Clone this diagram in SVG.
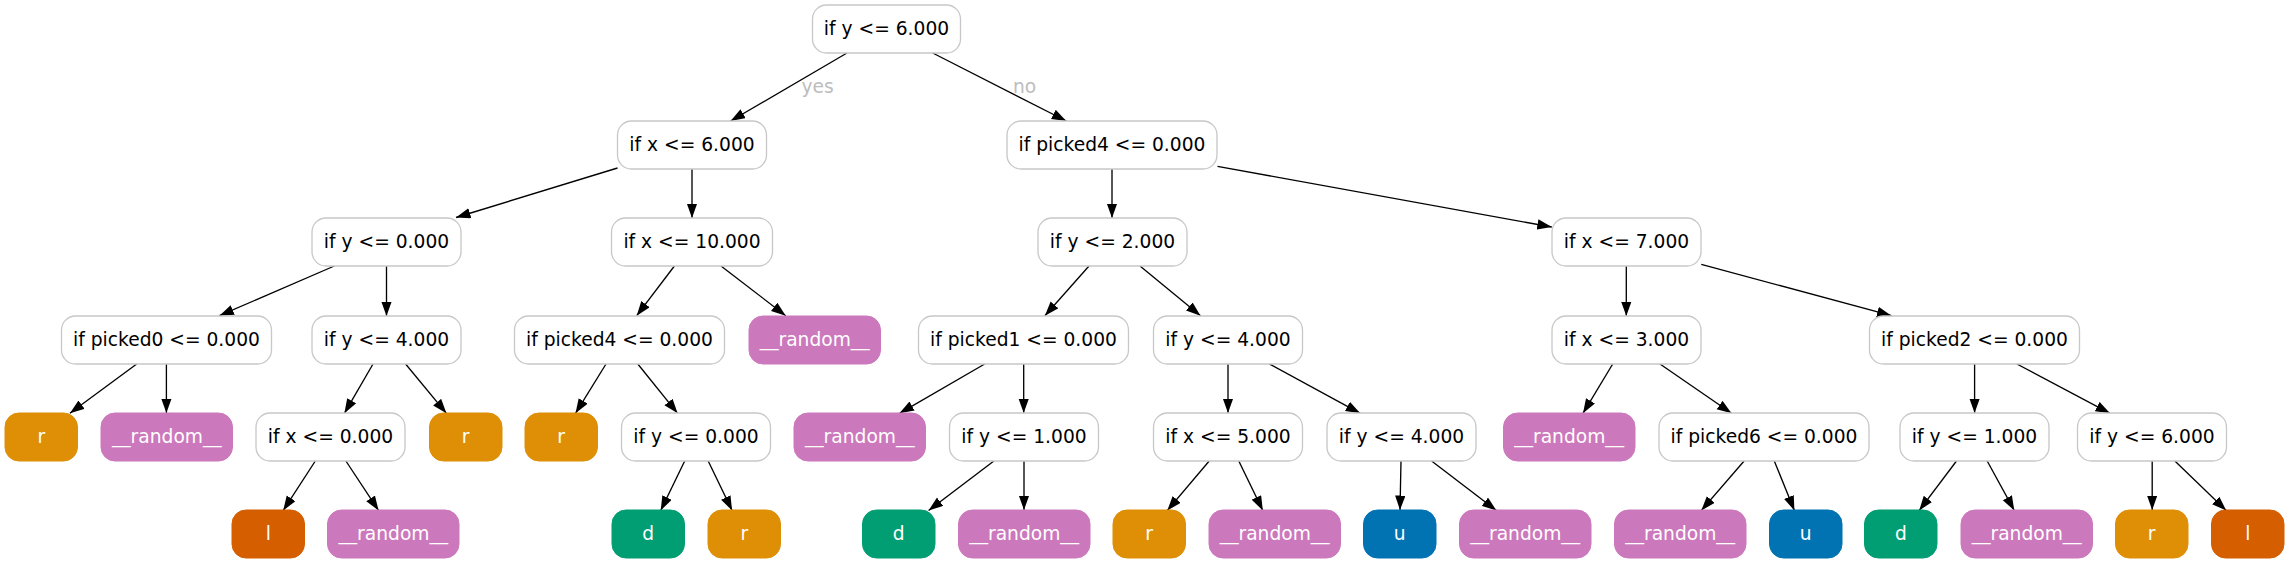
<svg xmlns="http://www.w3.org/2000/svg" width="2289" height="564" viewBox="0 0 2289 564">
<defs>
<marker id="ah" markerUnits="userSpaceOnUse" markerWidth="15" markerHeight="11" refX="14.5" refY="5.2" orient="auto">
<path d="M0,0 L14.5,5.2 L0,10.4 Z" fill="#000"/>
</marker>
<style>
.c{fill:#fff;stroke:#c8c8c8;stroke-width:1.33}
.R{fill:#de8f05;stroke:#de8f05}
.L{fill:#d55e00;stroke:#d55e00}
.D{fill:#029e73;stroke:#029e73}
.U{fill:#0173b2;stroke:#0173b2}
.Z{fill:#cc78bc;stroke:#cc78bc}
text{font-family:"DejaVu Sans","Liberation Sans",sans-serif;font-size:18.67px;text-anchor:middle}
.w{fill:#fff}
.k{fill:#000}
.e line{stroke:#000;stroke-width:1.33;marker-end:url(#ah)}
.lab{fill:#bdbdbd}
</style>
</defs>
<rect width="2289" height="564" fill="#fff"/>
<g id="connectors" class="e">
<line x1="847" y1="53" x2="730.6" y2="121"/>
<line x1="932.7" y1="53" x2="1066.3" y2="121"/>
<line x1="617.5" y1="168" x2="456" y2="217.5"/>
<line x1="692" y1="169" x2="692" y2="218"/>
<line x1="1112" y1="169" x2="1112" y2="218"/>
<line x1="1217.5" y1="166.4" x2="1551.8" y2="227"/>
<line x1="334.3" y1="266" x2="219.4" y2="315.7"/>
<line x1="386.5" y1="266" x2="386.5" y2="316"/>
<line x1="674.4" y1="266" x2="636.7" y2="315.7"/>
<line x1="721" y1="266" x2="785.7" y2="315.7"/>
<line x1="1089" y1="266" x2="1044.9" y2="315.7"/>
<line x1="1140" y1="266" x2="1200.5" y2="315.7"/>
<line x1="1626.3" y1="266" x2="1626.3" y2="316"/>
<line x1="1701.3" y1="264.3" x2="1891.5" y2="315.7"/>
<line x1="136.7" y1="364" x2="69.9" y2="413.3"/>
<line x1="166.4" y1="364" x2="166.4" y2="413"/>
<line x1="373" y1="364" x2="344.4" y2="413.3"/>
<line x1="405.6" y1="364" x2="446.4" y2="413.3"/>
<line x1="606" y1="364" x2="575.5" y2="413.3"/>
<line x1="637.8" y1="364" x2="677.6" y2="413.3"/>
<line x1="984.7" y1="364" x2="899.5" y2="413.3"/>
<line x1="1023.7" y1="364" x2="1023.7" y2="413"/>
<line x1="1228" y1="364" x2="1228" y2="413"/>
<line x1="1269.4" y1="364" x2="1360.2" y2="413.3"/>
<line x1="1612.7" y1="364" x2="1583" y2="413.3"/>
<line x1="1660" y1="364" x2="1731.5" y2="413.3"/>
<line x1="1974.6" y1="364" x2="1974.6" y2="413"/>
<line x1="2016.9" y1="364" x2="2110" y2="413.3"/>
<line x1="315.3" y1="461" x2="283.2" y2="510.5"/>
<line x1="345.9" y1="461" x2="378.6" y2="510.5"/>
<line x1="684.7" y1="461" x2="660.7" y2="510.5"/>
<line x1="708.2" y1="461" x2="732.1" y2="510.5"/>
<line x1="993.9" y1="461" x2="928.6" y2="510.5"/>
<line x1="1024" y1="461" x2="1024" y2="510"/>
<line x1="1209.2" y1="461" x2="1167.3" y2="510.5"/>
<line x1="1238.8" y1="461" x2="1262.8" y2="510.5"/>
<line x1="1401" y1="461" x2="1400" y2="510"/>
<line x1="1431.6" y1="461" x2="1496.4" y2="510.5"/>
<line x1="1744.1" y1="461" x2="1701.3" y2="510.5"/>
<line x1="1774.3" y1="461" x2="1794.4" y2="510.5"/>
<line x1="1956.5" y1="461" x2="1919.2" y2="510.5"/>
<line x1="1987.2" y1="461" x2="2014.3" y2="510.5"/>
<line x1="2152.2" y1="461" x2="2152.2" y2="510"/>
<line x1="2174.9" y1="461" x2="2226.2" y2="510.5"/>
<text class="lab" x="817.5" y="93">yes</text>
<text class="lab" x="1024.5" y="93">no</text>
</g>
<g id="n0"><rect class="c" x="812.5" y="5" width="148" height="48" rx="14"/><text class="k" x="886.5" y="35">if y &lt;= 6.000</text></g>
<g id="n1"><rect class="c" x="617.5" y="121" width="149" height="48" rx="14"/><text class="k" x="692" y="151">if x &lt;= 6.000</text></g>
<g id="n2"><rect class="c" x="1007" y="121" width="210" height="48" rx="14"/><text class="k" x="1112" y="151">if picked4 &lt;= 0.000</text></g>
<g id="n3"><rect class="c" x="312" y="218" width="149" height="48" rx="14"/><text class="k" x="386.5" y="248">if y &lt;= 0.000</text></g>
<g id="n4"><rect class="c" x="611.5" y="218" width="161" height="48" rx="14"/><text class="k" x="692" y="248">if x &lt;= 10.000</text></g>
<g id="n5"><rect class="c" x="1038" y="218" width="149" height="48" rx="14"/><text class="k" x="1112.5" y="248">if y &lt;= 2.000</text></g>
<g id="n6"><rect class="c" x="1552" y="218" width="149" height="48" rx="14"/><text class="k" x="1626.5" y="248">if x &lt;= 7.000</text></g>
<g id="n7"><rect class="c" x="61.5" y="316" width="210" height="48" rx="14"/><text class="k" x="166.5" y="346">if picked0 &lt;= 0.000</text></g>
<g id="n8"><rect class="c" x="312" y="316" width="149" height="48" rx="14"/><text class="k" x="386.5" y="346">if y &lt;= 4.000</text></g>
<g id="n9"><rect class="c" x="514.5" y="316" width="210" height="48" rx="14"/><text class="k" x="619.5" y="346">if picked4 &lt;= 0.000</text></g>
<g id="n10"><rect class="Z" x="749" y="316" width="131.5" height="48" rx="14"/><text class="w" x="814.7" y="346">__random__</text></g>
<g id="n11"><rect class="c" x="918.5" y="316" width="210" height="48" rx="14"/><text class="k" x="1023.5" y="346">if picked1 &lt;= 0.000</text></g>
<g id="n12"><rect class="c" x="1153.5" y="316" width="149" height="48" rx="14"/><text class="k" x="1228" y="346">if y &lt;= 4.000</text></g>
<g id="n13"><rect class="c" x="1552" y="316" width="149" height="48" rx="14"/><text class="k" x="1626.5" y="346">if x &lt;= 3.000</text></g>
<g id="n14"><rect class="c" x="1869.5" y="316" width="210" height="48" rx="14"/><text class="k" x="1974.5" y="346">if picked2 &lt;= 0.000</text></g>
<g id="n15"><rect class="R" x="5" y="413" width="72.5" height="48" rx="14"/><text class="w" x="41.3" y="443">r</text></g>
<g id="n16"><rect class="Z" x="101" y="413" width="131.5" height="48" rx="14"/><text class="w" x="166.8" y="443">__random__</text></g>
<g id="n17"><rect class="c" x="256" y="413" width="149" height="48" rx="14"/><text class="k" x="330.5" y="443">if x &lt;= 0.000</text></g>
<g id="n18"><rect class="R" x="429.5" y="413" width="72.5" height="48" rx="14"/><text class="w" x="465.7" y="443">r</text></g>
<g id="n19"><rect class="R" x="525" y="413" width="72.5" height="48" rx="14"/><text class="w" x="561.2" y="443">r</text></g>
<g id="n20"><rect class="c" x="621.5" y="413" width="149" height="48" rx="14"/><text class="k" x="696" y="443">if y &lt;= 0.000</text></g>
<g id="n21"><rect class="Z" x="794" y="413" width="131.5" height="48" rx="14"/><text class="w" x="859.8" y="443">__random__</text></g>
<g id="n22"><rect class="c" x="949.5" y="413" width="149" height="48" rx="14"/><text class="k" x="1024" y="443">if y &lt;= 1.000</text></g>
<g id="n23"><rect class="c" x="1153.5" y="413" width="149" height="48" rx="14"/><text class="k" x="1228" y="443">if x &lt;= 5.000</text></g>
<g id="n24"><rect class="c" x="1327" y="413" width="149" height="48" rx="14"/><text class="k" x="1401.5" y="443">if y &lt;= 4.000</text></g>
<g id="n25"><rect class="Z" x="1503.5" y="413" width="131.5" height="48" rx="14"/><text class="w" x="1569.2" y="443">__random__</text></g>
<g id="n26"><rect class="c" x="1659" y="413" width="210" height="48" rx="14"/><text class="k" x="1764" y="443">if picked6 &lt;= 0.000</text></g>
<g id="n27"><rect class="c" x="1900" y="413" width="149" height="48" rx="14"/><text class="k" x="1974.5" y="443">if y &lt;= 1.000</text></g>
<g id="n28"><rect class="c" x="2077.5" y="413" width="149" height="48" rx="14"/><text class="k" x="2152" y="443">if y &lt;= 6.000</text></g>
<g id="n29"><rect class="L" x="232" y="510" width="72.5" height="48" rx="14"/><text class="w" x="268.3" y="540">l</text></g>
<g id="n30"><rect class="Z" x="327.5" y="510" width="131.5" height="48" rx="14"/><text class="w" x="393.3" y="540">__random__</text></g>
<g id="n31"><rect class="D" x="612" y="510" width="72.5" height="48" rx="14"/><text class="w" x="648.2" y="540">d</text></g>
<g id="n32"><rect class="R" x="708" y="510" width="72.5" height="48" rx="14"/><text class="w" x="744.3" y="540">r</text></g>
<g id="n33"><rect class="D" x="862.5" y="510" width="72.5" height="48" rx="14"/><text class="w" x="898.7" y="540">d</text></g>
<g id="n34"><rect class="Z" x="958.5" y="510" width="131.5" height="48" rx="14"/><text class="w" x="1024.2" y="540">__random__</text></g>
<g id="n35"><rect class="R" x="1113" y="510" width="72.5" height="48" rx="14"/><text class="w" x="1149.2" y="540">r</text></g>
<g id="n36"><rect class="Z" x="1209" y="510" width="131.5" height="48" rx="14"/><text class="w" x="1274.7" y="540">__random__</text></g>
<g id="n37"><rect class="U" x="1363.5" y="510" width="72.5" height="48" rx="14"/><text class="w" x="1399.7" y="540">u</text></g>
<g id="n38"><rect class="Z" x="1459.5" y="510" width="131.5" height="48" rx="14"/><text class="w" x="1525.2" y="540">__random__</text></g>
<g id="n39"><rect class="Z" x="1614.5" y="510" width="131.5" height="48" rx="14"/><text class="w" x="1680.2" y="540">__random__</text></g>
<g id="n40"><rect class="U" x="1769.5" y="510" width="72.5" height="48" rx="14"/><text class="w" x="1805.7" y="540">u</text></g>
<g id="n41"><rect class="D" x="1864.5" y="510" width="72.5" height="48" rx="14"/><text class="w" x="1900.8" y="540">d</text></g>
<g id="n42"><rect class="Z" x="1961" y="510" width="131.5" height="48" rx="14"/><text class="w" x="2026.7" y="540">__random__</text></g>
<g id="n43"><rect class="R" x="2115.5" y="510" width="72.5" height="48" rx="14"/><text class="w" x="2151.7" y="540">r</text></g>
<g id="n44"><rect class="L" x="2211.5" y="510" width="72.5" height="48" rx="14"/><text class="w" x="2247.8" y="540">l</text></g>
</svg>
